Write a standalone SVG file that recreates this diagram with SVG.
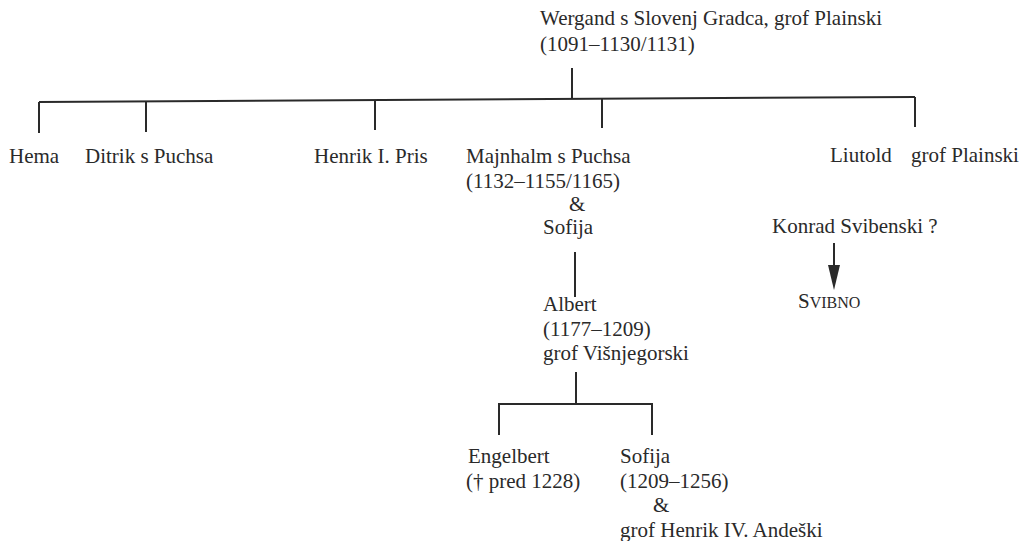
<svg xmlns="http://www.w3.org/2000/svg" width="1032" height="541" viewBox="0 0 1032 541">
<style>
text{font-family:"Liberation Serif","Times New Roman",serif;font-size:21px;fill:#2a2a2a}
.c{stroke:#2a2a2a;stroke-width:2;fill:none}
.sc{font-size:16px}
</style>
<rect width="1032" height="541" fill="#fff"/>
<g id="connectors">
<line class="c" x1="572" y1="68" x2="572" y2="99"/>
<line class="c" x1="39" y1="102" x2="915" y2="97"/>
<line class="c" x1="39" y1="102" x2="39" y2="133"/>
<line class="c" x1="146" y1="101" x2="146" y2="132"/>
<line class="c" x1="375" y1="100" x2="375" y2="130"/>
<line class="c" x1="602" y1="98" x2="602" y2="128"/>
<line class="c" x1="915" y1="97" x2="915" y2="127"/>
<line class="c" x1="575" y1="252" x2="575" y2="297"/>
<line class="c" x1="576" y1="372" x2="576" y2="404"/>
<polyline class="c" points="499,435 499,404 652,404 652,435"/>
<line class="c" x1="834" y1="243" x2="834" y2="268"/>
<polygon points="828,265 840,265 834,290" fill="#2a2a2a"/>
</g>
<g id="wergand"><text x="540" y="25">Wergand s Slovenj Gradca, grof Plainski</text><text x="540" y="51">(1091–1130/1131)</text></g>
<g id="hema"><text x="9" y="163">Hema</text></g>
<g id="ditrik"><text x="85" y="163">Ditrik s Puchsa</text></g>
<g id="henrik"><text x="314" y="163">Henrik I. Pris</text></g>
<g id="majnhalm"><text x="466" y="163">Majnhalm s Puchsa</text><text x="466" y="188">(1132–1155/1165)</text><text x="569" y="211">&amp;</text><text x="543" y="234">Sofija</text></g>
<g id="liutold"><text x="830" y="162">Liutold<tspan x="911">grof Plainski</tspan></text></g>
<g id="konrad"><text x="772" y="233">Konrad Svibenski ?</text></g>
<g id="svibno"><text x="798" y="308">S<tspan class="sc">VIBNO</tspan></text></g>
<g id="albert"><text x="543" y="311">Albert</text><text x="543" y="336">(1177–1209)</text><text x="543" y="360">grof Višnjegorski</text></g>
<g id="engelbert"><text x="468" y="463">Engelbert</text><text x="466" y="488">(† pred 1228)</text></g>
<g id="sofija2"><text x="620" y="463">Sofija</text><text x="620" y="488">(1209–1256)</text><text x="653" y="512">&amp;</text><text x="620" y="537">grof Henrik IV. Andeški</text></g>
</svg>
